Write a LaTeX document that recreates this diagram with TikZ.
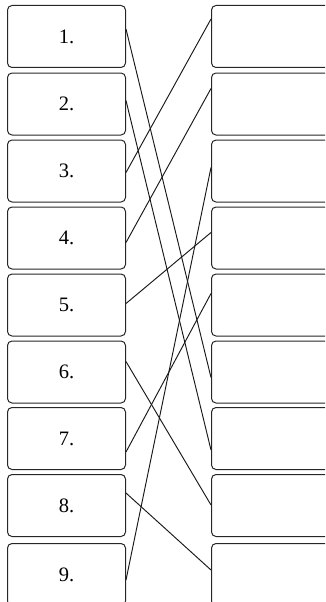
\documentclass[tikz,border=0pt]{standalone}
\usepackage{fontspec}
\setmainfont{Liberation Serif}
\begin{document}
\begin{tikzpicture}[x=1pt,y=-1pt,
  box/.style={draw=black!85, line width=1pt, rounded corners=4.5pt,
    minimum width=118pt, minimum height=62pt, inner sep=0pt,
    anchor=north west, font=\fontsize{20.5}{24}\selectfont},
  rbox/.style={box, minimum width=124pt},
  link/.style={line width=0.95pt, black!90}]
\useasboundingbox (0,0) rectangle (325,602);
\clip (0,0) rectangle (325,602);
\foreach \i/\t in {1/5,2/72.5,3/139.5,4/206.5,5/273.5,6/340.5,7/407,8/474,9/543}{
  \node[box] (l\i) at (7,\t) {\i.};
  \node[rbox] (r\i) at (211,\t) {};
}
\draw[link] ([yshift=-24pt]l1.north east) -- ([yshift=-37pt]r6.north west);
\draw[link] ([yshift=-28pt]l2.north east) -- ([yshift=-43pt]r7.north west);
\draw[link] ([yshift=-33pt]l3.north east) -- ([yshift=-14pt]r1.north west);
\draw[link] ([yshift=-36pt]l4.north east) -- ([yshift=-16pt]r2.north west);
\draw[link] ([yshift=-30pt]l5.north east) -- ([yshift=-26pt]r4.north west);
\draw[link] ([yshift=-21pt]l6.north east) -- ([yshift=-31pt]r8.north west);
\draw[link] ([yshift=-45pt]l7.north east) -- ([yshift=-20pt]r5.north west);
\draw[link] ([yshift=-19pt]l8.north east) -- ([yshift=-27pt]r9.north west);
\draw[link] ([yshift=-37pt]l9.north east) -- ([yshift=-28pt]r3.north west);
\end{tikzpicture}
\end{document}
